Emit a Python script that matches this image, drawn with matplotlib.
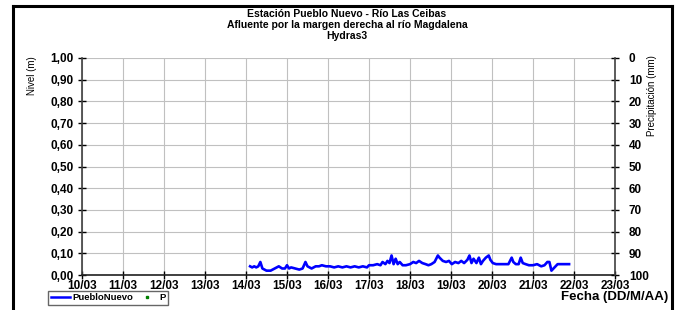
import matplotlib
matplotlib.use("Agg")
import matplotlib.pyplot as plt
from matplotlib.lines import Line2D

plt.rcParams['font.family'] = ['Liberation Sans', 'DejaVu Sans']

# Data: day of March (decimal) and level (m)
days = [14.10, 14.15, 14.20, 14.25, 14.30, 14.35, 14.40, 14.45, 14.50, 14.60, 14.70,
        14.80, 14.88, 14.95, 15.00, 15.05, 15.10, 15.20, 15.30, 15.38, 15.45, 15.50,
        15.60, 15.70, 15.78, 15.85, 15.95, 16.05, 16.15, 16.25, 16.35, 16.45, 16.55,
        16.65, 16.75, 16.85, 16.95, 17.00, 17.10, 17.20, 17.28, 17.33, 17.40, 17.45,
        17.50, 17.55, 17.60, 17.65, 17.70, 17.75, 17.82, 17.90, 18.00, 18.08, 18.15,
        18.22, 18.30, 18.38, 18.45, 18.52, 18.60, 18.68, 18.72, 18.80, 18.88, 18.95,
        19.02, 19.10, 19.18, 19.25, 19.32, 19.40, 19.45, 19.50, 19.55, 19.62, 19.68,
        19.73, 19.78, 19.85, 19.92, 19.96, 20.02, 20.10, 20.20, 20.30, 20.40, 20.48,
        20.52, 20.58, 20.65, 20.70, 20.75, 20.82, 20.90, 21.00, 21.10, 21.20, 21.28,
        21.35, 21.40, 21.45, 21.50, 21.55, 21.60, 21.70, 21.80, 21.88]
nivel = [0.040, 0.035, 0.040, 0.035, 0.040, 0.060, 0.030, 0.025, 0.020, 0.020, 0.030,
         0.040, 0.030, 0.030, 0.045, 0.030, 0.035, 0.030, 0.025, 0.030, 0.060, 0.040,
         0.030, 0.040, 0.040, 0.045, 0.040, 0.040, 0.035, 0.040, 0.035, 0.040, 0.035,
         0.040, 0.035, 0.040, 0.035, 0.045, 0.045, 0.050, 0.045, 0.060, 0.050, 0.065,
         0.055, 0.090, 0.050, 0.075, 0.050, 0.060, 0.045, 0.045, 0.050, 0.060, 0.055,
         0.065, 0.055, 0.050, 0.045, 0.050, 0.060, 0.090, 0.080, 0.065, 0.060, 0.065,
         0.050, 0.060, 0.055, 0.065, 0.055, 0.070, 0.090, 0.055, 0.075, 0.055, 0.080,
         0.050, 0.065, 0.080, 0.090, 0.070, 0.055, 0.050, 0.050, 0.050, 0.050, 0.080,
         0.060, 0.050, 0.050, 0.080, 0.055, 0.050, 0.045, 0.045, 0.050, 0.040, 0.045,
         0.060, 0.060, 0.020, 0.030, 0.040, 0.050, 0.050, 0.050, 0.050]

xticks = list(range(10, 24))
xlabels = ["%02d/03" % d for d in xticks]
yticks = [i / 10 for i in range(11)]
ylabels = [("%.2f" % v).replace(".", ",") for v in yticks]
pticks = list(range(0, 101, 10))

fig = plt.figure(figsize=(6.76, 3.10), dpi=100)
ax = fig.add_axes([82 / 676, 1 - 275 / 310, (615 - 82) / 676, (275 - 58) / 310])

ax.plot(days, nivel, color='#0000FF', lw=1.9, zorder=3)
ax.set_xlim(10, 23)
ax.set_ylim(0, 1)
ax.set_xticks(xticks)
ax.set_xticklabels(xlabels, fontsize=8.5, fontweight='bold')
ax.set_yticks(yticks)
ax.set_yticklabels(ylabels, fontsize=8.5, fontweight='bold')
ax.grid(True, color='#C0C0C0', lw=0.8)
ax.tick_params(axis='x', direction='inout', length=6, width=1, pad=0.5)
ax.tick_params(axis='y', direction='inout', length=6, width=1, pad=3)
ax.spines['top'].set_visible(False)
ax.spines['right'].set_visible(False)
ax.spines['left'].set_color('#404040')
ax.spines['bottom'].set_color('#202020')
ax.spines['left'].set_linewidth(1.2)
ax.spines['bottom'].set_linewidth(1.2)

ax2 = ax.twinx()
ax2.set_ylim(100, 0)
ax2.set_yticks(pticks)
ax2.set_yticklabels([str(p) for p in pticks], fontsize=8.5, fontweight='bold')
ax2.tick_params(axis='y', direction='inout', length=6, width=1, pad=7)
for s in ['top', 'left', 'bottom']:
    ax2.spines[s].set_visible(False)
ax2.spines['right'].set_color('#404040')
ax2.spines['right'].set_linewidth(1.2)

fig.text(347 / 676, 1 - 14 / 310, "Estación Pueblo Nuevo - Río Las Ceibas", ha='center', va='center',
         fontsize=7.5, fontweight='bold')
fig.text(347 / 676, 1 - 25 / 310, "Afluente por la margen derecha al río Magdalena", ha='center',
         va='center', fontsize=7.5, fontweight='bold')
fig.text(347 / 676, 1 - 36 / 310, "Hydras3", ha='center', va='center', fontsize=7.5, fontweight='bold')

fig.text(32 / 676, 1 - 76 / 310, "Nivel (m)", rotation=90, ha='center', va='center', fontsize=7)
fig.text(652 / 676, 1 - 96 / 310, "Precipitación (mm)", rotation=90, ha='center', va='center', fontsize=7)
fig.text(668 / 676, 1 - 297 / 310, "Fecha (DD/M/AA)", ha='right', va='center', fontsize=9.5,
         fontweight='bold')

# Outer frame
fig.add_artist(Line2D([13 / 676, 13 / 676], [0, 1 - 6 / 310], transform=fig.transFigure, color='black', lw=2.2))
fig.add_artist(Line2D([13 / 676, 672 / 676], [1 - 6 / 310, 1 - 6 / 310], transform=fig.transFigure,
                      color='black', lw=2.2))
fig.add_artist(Line2D([672 / 676, 672 / 676], [0, 1 - 6 / 310], transform=fig.transFigure, color='black', lw=2.2))

# Legend
leg_handles = [Line2D([], [], color='#0000FF', lw=1.8),
               Line2D([], [], color='#008000', marker='s', ms=1.8, lw=0)]
leg = fig.legend(leg_handles, ["PuebloNuevo", "P"], loc='center left',
                 bbox_to_anchor=(48 / 676, 1 - 298 / 310), ncol=2, frameon=True, fancybox=False,
                 prop={'size': 6.8, 'weight': 'bold'}, handlelength=2.0, handletextpad=0.3,
                 columnspacing=0.4, borderpad=0.3, borderaxespad=0)
leg.get_frame().set_edgecolor('#404040')
leg.get_frame().set_linewidth(1.0)

fig.savefig("out.png", dpi=100)
